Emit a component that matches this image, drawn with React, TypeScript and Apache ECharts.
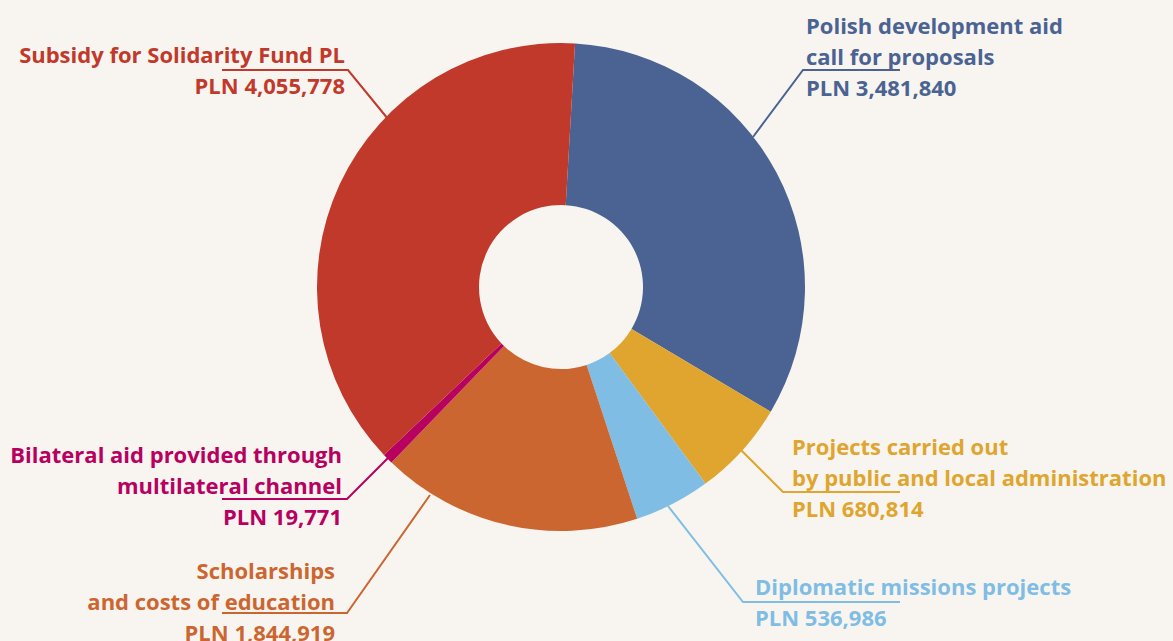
import React, { useEffect, useRef } from "react";
import * as echarts from "echarts";

// ---- data ----
const categories: string[] = [
  "Polish development aid\ncall for proposals",
  "Projects carried out\nby public and local administration",
  "Diplomatic missions projects",
  "Scholarships\nand costs of education",
  "Bilateral aid provided through\nmultilateral channel",
  "Subsidy for Solidarity Fund PL",
];
const values: number[] = [3481840, 680814, 536986, 1844919, 19771, 4055778];
const currencyPrefix = "PLN";

// ---- styles / layout (not data) ----
const sliceColors: string[] = ["#4A6393", "#DFA52F", "#80BDE4", "#CC6631", "#B70060", "#C1392B"];
const labelAnchors: { x: number; y: number; align: "left" | "right" }[] = [
  { x: 806, y: 9.5, align: "left" },
  { x: 792, y: 430.5, align: "left" },
  { x: 755, y: 570, align: "left" },
  { x: 335, y: 554.5, align: "right" },
  { x: 342, y: 438.5, align: "right" },
  { x: 345, y: 38, align: "right" },
];
const leaderLines: number[][][] = [
  [[753, 137], [803, 70], [900, 70]],
  [[740, 449], [783, 492], [900, 492]],
  [[668, 506], [743, 602], [900, 602]],
  [[430, 495], [347, 613], [222, 613]],
  [[388, 458], [347, 499], [222, 499]],
  [[388, 119], [348, 70], [222, 70]],
];

const fmt = (v: number) => v.toLocaleString("en-US");

export default function App() {
  const ref = useRef<HTMLDivElement>(null);
  useEffect(() => {
    if (!ref.current) return;
    const chart = echarts.init(ref.current, null, { renderer: "svg" });
    chart.setOption({
      animation: false,
      backgroundColor: "#F8F5F0",
      series: [
        {
          type: "pie",
          center: [561, 287],
          radius: [82, 244],
          startAngle: 86.7,
          clockwise: true,
          minAngle: 2.5,
          avoidLabelOverlap: false,
          itemStyle: { borderWidth: 0 },
          emphasis: { disabled: true },
          data: categories.map((name, i) => ({
            name,
            value: values[i],
            itemStyle: { color: sliceColors[i] },
            label: { color: sliceColors[i] },
            labelLine: { lineStyle: { color: sliceColors[i] } },
          })),
          label: {
            show: true,
            position: "outside",
            formatter: (p: any) => `${p.name}\n${currencyPrefix} ${fmt(p.value)}`,
            fontFamily: "Open Sans",
            fontWeight: "bold",
            fontSize: 22,
            lineHeight: 31,
          },
          labelLine: { show: true, lineStyle: { width: 2 } },
          labelLayout: (p: any) => {
            const a = labelAnchors[p.dataIndex];
            return {
              x: a.x,
              y: a.y,
              align: a.align,
              verticalAlign: "top",
              labelLinePoints: leaderLines[p.dataIndex],
              hideOverlap: false,
            };
          },
        },
      ],
    });
    return () => chart.dispose();
  }, []);
  return (
    <div
      ref={ref}
      style={{ position: "fixed", left: 0, top: 0, width: 1173, height: 641 }}
    />
  );
}
